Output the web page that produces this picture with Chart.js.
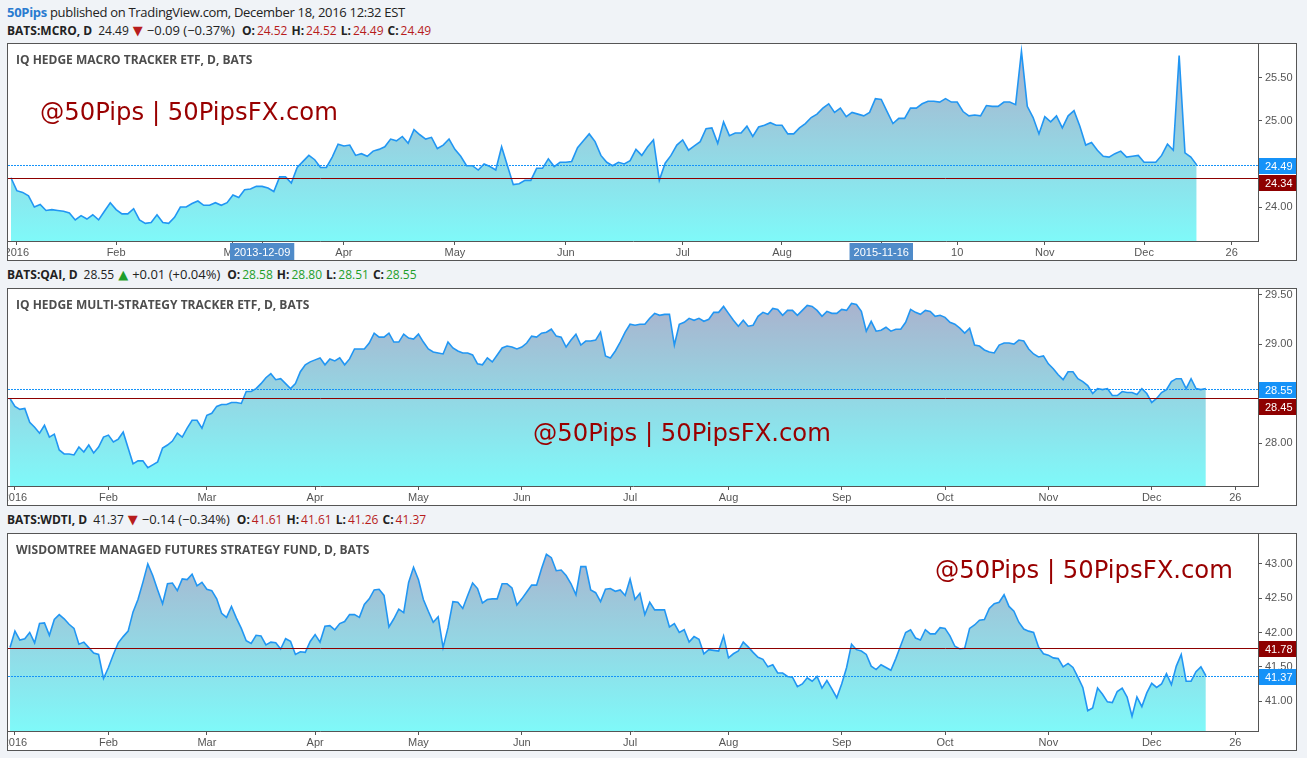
<!DOCTYPE html>
<html>
<head>
<meta charset="utf-8">
<script src="https://cdn.jsdelivr.net/npm/chart.js@4.4.0/dist/chart.umd.min.js"></script>
<style>
  body { margin: 0; width: 1307px; height: 758px; overflow: hidden; position: relative; background: #f0f3f7; font-family: 'Open Sans', sans-serif; color: #222; }
  .hdr { position: absolute; left: 7px; white-space: nowrap; font-size: 12px; line-height: 14px; }
  .hdr .v { margin-left: 6px; }
  .hdr .tri { font-family: 'DejaVu Sans', sans-serif; font-size: 13px; margin-left: 4px; }
  .hdr .chg { font-size: 13px; margin-left: 4px; }
  .hdr .lb { margin-left: 4px; }
  .hdr .lb.first { margin-left: 7px; }
  .hdr .n { margin-left: 2px; }
  .dn { color: #b71c1c; }
  .up { color: #1f9e2a; }
  .panel { position: absolute; left: 7px; width: 1288px; height: 216px; border: 1px solid #555; background: #fff; }
  .panel canvas { position: absolute; left: 0; top: 0; }
  .ttl { position: absolute; left: 8px; top: 9px; font-size: 12px; line-height: 14px; font-weight: 700; color: #4d4d4d; white-space: nowrap; }
  .wm { position: absolute; font-family: 'DejaVu Sans', sans-serif; font-size: 24.3px; line-height: 24px; color: #990000; white-space: nowrap; }
</style>
</head>
<body>

<div class="hdr" style="top:4px;font-size:13px;line-height:16px;letter-spacing:-0.3px"><b style="color:#2a7bd0">50Pips</b> published on TradingView.com, December 18, 2016 12:32 EST</div>
<div class="hdr" style="top:23px"><b>BATS:MCRO, D</b><span class="v">24.49</span><span class="tri dn">▼</span><span class="chg">−0.09 (−0.37%)</span><b class="lb first">O:</b><span class="n dn">24.52</span><b class="lb">H:</b><span class="n dn">24.52</span><b class="lb">L:</b><span class="n dn">24.49</span><b class="lb">C:</b><span class="n dn">24.49</span></div>
<div class="panel" style="top:43px">
  <canvas id="chartMcro" width="1288" height="216"></canvas>
  <div class="ttl">IQ HEDGE MACRO TRACKER ETF, D, BATS</div>
  <div class="wm" style="left:32px;top:56px">@50Pips | 50PipsFX.com</div>
</div>

<div class="hdr" style="top:267px"><b>BATS:QAI, D</b><span class="v">28.55</span><span class="tri up">▲</span><span class="chg">+0.01 (+0.04%)</span><b class="lb first">O:</b><span class="n up">28.58</span><b class="lb">H:</b><span class="n up">28.80</span><b class="lb">L:</b><span class="n up">28.51</span><b class="lb">C:</b><span class="n up">28.55</span></div>
<div class="panel" style="top:288px">
  <canvas id="chartQai" width="1288" height="216"></canvas>
  <div class="ttl">IQ HEDGE MULTI-STRATEGY TRACKER ETF, D, BATS</div>
  <div class="wm" style="left:525px;top:132px">@50Pips | 50PipsFX.com</div>
</div>

<div class="hdr" style="top:512px"><b>BATS:WDTI, D</b><span class="v">41.37</span><span class="tri dn">▼</span><span class="chg">−0.14 (−0.34%)</span><b class="lb first">O:</b><span class="n dn">41.61</span><b class="lb">H:</b><span class="n dn">41.61</span><b class="lb">L:</b><span class="n dn">41.26</span><b class="lb">C:</b><span class="n dn">41.37</span></div>
<div class="panel" style="top:533px">
  <canvas id="chartWdti" width="1288" height="216"></canvas>
  <div class="ttl">WISDOMTREE MANAGED FUTURES STRATEGY FUND, D, BATS</div>
  <div class="wm" style="left:927px;top:24px">@50Pips | 50PipsFX.com</div>
</div>

<script>
// Daily closes, one value per bar (MCRO trades thin, so it has fewer bars)
const mcroClose = [
  24.34,24.19,24.17,24.13,24.00,24.03,23.96,23.97,23.96,23.95,
  23.93,23.85,23.90,23.86,23.91,23.85,23.95,24.05,23.97,23.92,
  23.92,23.98,23.85,23.81,23.82,23.91,23.82,23.81,23.88,24.00,
  24.00,24.04,24.07,24.02,24.02,24.05,24.02,24.05,24.14,24.11,
  24.20,24.21,24.24,24.24,24.22,24.18,24.35,24.35,24.28,24.46,
  24.53,24.60,24.55,24.46,24.46,24.58,24.73,24.71,24.72,24.60,
  24.62,24.59,24.65,24.67,24.70,24.79,24.77,24.82,24.74,24.90,
  24.84,24.79,24.81,24.68,24.72,24.79,
  24.67,24.59,24.48,24.48,24.43,24.50,24.47,24.43,24.70,24.48,
  24.26,24.27,24.31,24.31,24.45,24.45,24.56,24.47,24.52,24.52,
  24.53,24.69,24.77,24.85,24.76,24.60,24.52,24.48,24.52,24.50,
  24.54,24.67,24.60,24.70,24.78,24.31,24.51,24.60,24.72,24.78,
  24.66,24.71,24.76,24.91,24.92,24.74,24.99,24.83,24.86,24.86,
  24.94,24.82,24.93,24.95,24.98,24.95,24.95,24.85,24.85,24.92,
  24.97,25.04,25.08,25.15,25.20,25.10,25.15,25.05,25.10,25.08,
  25.06,25.10,25.26,25.25,
  25.11,24.97,25.03,25.03,25.15,25.15,25.20,25.23,25.23,25.22,
  25.26,25.22,25.22,25.11,25.06,25.07,25.06,25.18,25.17,25.17,
  25.22,25.22,25.19,25.81,25.17,25.04,24.85,25.05,24.99,25.06,
  24.92,25.06,25.12,24.94,24.72,24.75,24.66,24.59,24.58,24.62,
  24.65,24.58,24.59,24.60,24.52,24.52,24.52,24.60,24.73,24.66,
  25.76,24.63,24.58,24.49
];

const qaiClose = [
  28.45,28.37,28.34,28.35,28.21,28.16,28.10,28.18,28.06,28.09,
  27.93,27.89,27.89,27.88,27.96,27.91,27.98,27.90,27.96,28.06,
  28.08,28.01,28.04,28.11,27.95,27.79,27.82,27.82,27.75,27.78,
  27.81,27.95,27.98,28.02,28.10,28.06,28.15,28.23,28.23,28.15,
  28.28,28.30,28.37,28.39,28.39,28.41,28.41,28.40,28.52,28.52,
  28.55,28.60,28.66,28.70,28.64,28.65,28.60,28.55,28.60,28.72,
  28.79,28.82,28.84,28.86,28.79,28.85,28.83,28.86,28.79,28.85,
  28.95,28.95,28.95,29.01,29.11,29.07,29.07,29.11,29.02,29.02,
  29.10,29.06,29.05,29.10,29.02,28.95,28.92,28.91,28.90,29.02,
  28.96,28.93,28.91,28.91,28.89,28.80,28.79,28.86,28.82,28.89,
  28.96,28.98,28.97,28.95,28.97,29.01,29.08,29.07,29.11,29.12,
  29.15,29.08,29.07,28.97,29.04,29.10,28.99,29.03,29.03,29.04,
  29.12,28.88,28.86,28.93,29.02,29.12,29.20,29.19,29.20,29.20,
  29.26,29.31,29.29,29.30,29.30,28.99,29.20,29.22,29.26,29.24,
  29.26,29.23,29.25,29.32,29.32,29.38,29.31,29.24,29.18,29.24,
  29.18,29.19,29.28,29.32,29.30,29.36,29.35,29.29,29.34,29.34,
  29.29,29.34,29.39,29.38,29.34,29.28,29.33,29.31,29.31,29.35,
  29.34,29.41,29.40,29.33,
  29.13,29.23,29.13,29.14,29.17,29.13,29.15,29.15,29.22,29.35,
  29.32,29.30,29.34,29.33,29.28,29.29,29.27,29.22,29.20,29.16,
  29.11,29.16,28.99,28.98,28.94,28.92,28.91,28.99,29.01,29.01,
  29.00,29.04,29.03,28.95,28.90,28.87,28.88,28.80,28.75,28.69,
  28.64,28.72,28.72,28.65,28.62,28.58,28.50,28.55,28.54,28.55,
  28.48,28.48,28.52,28.51,28.51,28.49,28.55,28.50,28.41,28.45,
  28.51,28.54,28.62,28.65,28.65,28.55,28.65,28.55,28.54,28.55
];

const wdtiClose = [
  41.78,42.02,41.89,41.91,42.00,41.85,42.13,42.14,41.96,42.19,
  42.26,42.20,42.12,42.06,41.83,41.86,41.78,41.70,41.68,41.33,
  41.49,41.68,41.85,41.94,42.02,42.30,42.48,42.73,43.00,42.83,
  42.62,42.42,42.71,42.72,42.61,42.78,42.77,42.85,42.68,42.73,
  42.63,42.61,42.49,42.28,42.22,42.38,42.21,42.06,41.88,41.84,
  41.96,41.95,41.82,41.86,41.85,41.76,41.91,41.87,41.68,41.72,
  41.71,41.87,41.97,41.86,42.09,42.10,42.04,42.13,42.16,42.26,
  42.26,42.22,42.41,42.49,42.62,42.63,42.54,42.08,42.20,42.34,
  42.29,42.73,42.95,42.77,42.48,42.31,42.15,42.23,41.78,42.07,
  42.45,42.44,42.35,42.54,42.72,42.64,42.43,42.48,42.49,42.49,
  42.71,42.71,42.65,42.40,42.49,42.59,42.69,42.69,42.93,43.14,
  43.09,42.90,42.91,42.83,42.71,42.55,42.96,42.96,42.62,42.58,
  42.45,42.63,42.64,42.60,42.62,42.54,42.78,42.48,42.57,42.26,
  42.44,42.33,42.33,42.33,42.08,42.13,42.00,42.04,41.86,41.94,
  41.90,41.69,41.75,41.74,41.73,41.95,41.63,41.69,41.73,41.86,
  41.79,41.71,41.64,41.61,41.50,41.53,41.41,41.41,41.36,41.35,
  41.21,41.25,41.34,41.29,41.36,41.19,41.30,41.18,41.05,41.25,
  41.49,41.83,41.75,41.73,
  41.68,41.51,41.46,41.53,41.49,41.45,41.62,41.81,42.00,42.04,
  41.92,41.89,42.04,41.98,41.98,42.07,42.06,41.95,41.80,41.76,
  41.77,42.06,42.11,42.18,42.19,42.35,42.42,42.44,42.55,42.38,
  42.31,42.15,42.05,42.02,42.00,41.79,41.69,41.67,41.63,41.62,
  41.50,41.55,41.49,41.35,41.20,40.86,40.90,41.19,41.10,40.99,
  40.98,41.14,41.19,41.06,40.78,41.06,40.92,41.12,41.26,41.20,
  41.25,41.40,41.24,41.51,41.68,41.29,41.29,41.43,41.50,41.37
];

// Time axis: bar index of each label, and its text
const mcroTickIdx = [1, 18, 38, 43, 57, 76, 95, 115, 132, 149, 162, 177, 194, 209];
const mcroTickText = ['2016', 'Feb', 'Mar', '2013-12-09', 'Apr', 'May', 'Jun', 'Jul', 'Aug', '2015-11-16', '10', 'Nov', 'Dec', '26'];
const mcroMarked = ['2013-12-09', '2015-11-16'];
const dayTickIdx = [1, 20, 40, 62, 83, 104, 126, 146, 169, 190, 211, 232, 249];
const dayTickText = ['2016', 'Feb', 'Mar', 'Apr', 'May', 'Jun', 'Jul', 'Aug', 'Sep', 'Oct', 'Nov', 'Dec', '26'];

// Price axis labels
const mcroYTicks = [24, 24.5, 25, 25.5];
const qaiYTicks = [28, 28.5, 29, 29.5];
const wdtiYTicks = [41, 41.5, 42, 42.5, 43];

const LINE_BLUE = '#2196f3';
const LAST_BLUE = '#1592f8';
const REF_RED = '#8e0000';
const AXIS = '#555';

// area gradient, greyish at the top, cyan at the bottom
function areaFill(ctx) {
  const a = ctx.chart.chartArea;
  if (!a) return 'rgba(128,248,248,0.8)';
  const g = ctx.chart.ctx.createLinearGradient(0, a.top, 0, a.bottom);
  g.addColorStop(0, '#adadca');
  g.addColorStop(1, '#7ff9f9');
  return g;
}

// horizontal price lines + their boxes on the price axis
const priceLines = {
  id: 'priceLines',
  afterDraw(chart, args, opts) {
    const { ctx, chartArea: a } = chart;
    const y = chart.scales.y;
    const rows = opts.lines.map(l => ({ ...l, py: Math.round(y.getPixelForValue(l.value)) + 0.5 }));
    ctx.save();
    ctx.beginPath();
    ctx.rect(a.left, a.top, a.right - a.left, a.bottom - a.top);
    ctx.clip();
    rows.forEach(r => {
      ctx.strokeStyle = r.color;
      ctx.lineWidth = 1;
      ctx.setLineDash(r.dash || []);
      ctx.beginPath();
      ctx.moveTo(a.left, r.py);
      ctx.lineTo(a.right, r.py);
      ctx.stroke();
    });
    ctx.restore();

    ctx.save();
    ctx.font = '11px "Liberation Sans", Arial, sans-serif';
    ctx.textBaseline = 'middle';
    let lastBottom = -Infinity;
    rows.slice().sort((p, q) => p.py - q.py).forEach(r => {
      const top = Math.max(Math.round(r.py - 8), lastBottom + 1);
      ctx.fillStyle = r.color;
      ctx.fillRect(a.right + 1, top, chart.width - a.right - 1, 16);
      ctx.fillStyle = '#fff';
      ctx.fillText(r.value.toFixed(2), a.right + 7, top + 8.5);
      lastBottom = top + 16;
    });
    ctx.restore();
  }
};

function makeChart(id, closes, o) {
  const pts = closes.map((v, i) => ({ x: i, y: v }));
  const marked = o.marked || [];
  return new Chart(document.getElementById(id), {
    type: 'line',
    data: {
      datasets: [{
        data: pts,
        borderColor: LINE_BLUE,
        borderWidth: 1.6,
        pointRadius: 0,
        tension: 0,
        fill: 'start',
        backgroundColor: areaFill
      }]
    },
    options: {
      responsive: false,
      animation: false,
      events: [],
      layout: { padding: 0 },
      plugins: {
        legend: { display: false },
        tooltip: { enabled: false },
        priceLines: {
          lines: [
            { value: closes[closes.length - 1], color: LAST_BLUE, dash: [2, 1] },
            { value: closes[0], color: REF_RED }
          ]
        }
      },
      scales: {
        x: {
          type: 'linear',
          min: o.xMin,
          max: o.xMax,
          afterBuildTicks: s => { s.ticks = o.tickIdx.map(v => ({ value: v })); },
          afterFit: s => { s.height = 19; s.paddingLeft = 0; s.paddingRight = 0; },
          grid: { drawOnChartArea: false, tickLength: 4, color: AXIS },
          border: { display: true, color: AXIS, width: 1 },
          ticks: {
            autoSkip: false,
            maxRotation: 0,
            minRotation: 0,
            padding: 1,
            font: { family: '"Liberation Sans", Arial, sans-serif', size: 11 },
            color: c => marked.includes(c.tick && c.tick.label) ? '#fff' : AXIS,
            showLabelBackdrop: c => marked.includes(c.tick && c.tick.label),
            backdropColor: '#4f8bc9',
            backdropPadding: { top: 3, bottom: 2, left: 4, right: 4 },
            callback: (v, i) => o.tickText[i]
          }
        },
        y: {
          position: 'right',
          min: o.yMin,
          max: o.yMax,
          afterBuildTicks: s => { s.ticks = o.yTicks.map(v => ({ value: v })); },
          afterFit: s => { s.width = 38; s.paddingTop = 0; s.paddingBottom = 0; },
          grid: { drawOnChartArea: false, tickLength: 4, color: AXIS },
          border: { display: true, color: AXIS, width: 1 },
          ticks: {
            padding: 3,
            font: { family: '"Liberation Sans", Arial, sans-serif', size: 11 },
            color: AXIS,
            callback: v => Number(v).toFixed(2)
          }
        }
      }
    },
    plugins: [priceLines]
  });
}

makeChart('chartMcro', mcroClose, {
  xMin: -0.51, xMax: 213.5, yMin: 23.605, yMax: 25.895,
  tickIdx: mcroTickIdx, tickText: mcroTickText, marked: mcroMarked, yTicks: mcroYTicks
});
makeChart('chartQai', qaiClose, {
  xMin: -0.41, xMax: 253.6, yMin: 27.566, yMax: 29.556,
  tickIdx: dayTickIdx, tickText: dayTickText, yTicks: qaiYTicks
});
makeChart('chartWdti', wdtiClose, {
  xMin: -0.41, xMax: 253.6, yMin: 40.565, yMax: 43.435,
  tickIdx: dayTickIdx, tickText: dayTickText, yTicks: wdtiYTicks
});
</script>
</body>
</html>
